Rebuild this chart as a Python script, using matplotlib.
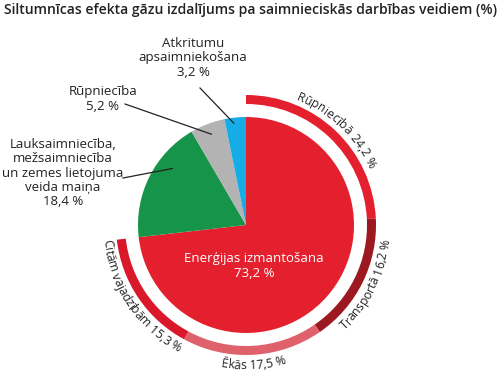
import numpy as np
import matplotlib.pyplot as plt
from matplotlib.font_manager import FontProperties, findfont, get_font

plt.rcParams['font.family'] = ['Open Sans', 'DejaVu Sans']

title = "Siltumnīcas efekta gāzu izdalījums pa saimnieciskās darbības veidiem (%)"

# pie: sectors clockwise from top
sectors = ["Enerģijas izmantošana", "Lauksaimniecība,\nmežsaimniecība\nun zemes lietojuma\nveida maiņa",
           "Rūpniecība", "Atkritumu\napsaimniekošana"]
shares = [73.2, 18.4, 5.2, 3.2]
share_lbl = ["73,2 %", "18,4 %", "5,2 %", "3,2 %"]
pie_cols = ["#e5202e", "#16954a", "#b3b3b3", "#16ade6"]

# energy use breakdown (outer ring)
uses = ["Rūpniecībā", "Transportā", "Ēkās", "Citām vajadzībām"]
use_vals = [24.2, 16.2, 17.5, 15.3]
use_lbl = ["24,2 %", "16,2 %", "17,5 %", "15,3 %"]
use_cols = ["#e5202e", "#9c1922", "#df616b", "#d9182b"]

W, H = 500, 375
fig = plt.figure(figsize=(5, 3.75), dpi=100)
ax = fig.add_axes([0, 0, 1, 1])

cx, cy = 246, H - 225
R = 108
ax.pie(shares, colors=pie_cols, startangle=90, counterclock=False,
       radius=R, center=(cx, cy), frame=True,
       wedgeprops=dict(linewidth=0))
ring_vals = use_vals + [100 - sum(use_vals)]
ring_cols = use_cols + ["none"]
ax.pie(ring_vals, colors=ring_cols, startangle=90, counterclock=False,
       radius=130, center=(cx, cy), frame=True,
       wedgeprops=dict(width=9, linewidth=0))
ax.set_xlim(0, W)
ax.set_ylim(0, H)
ax.set_aspect('equal')
ax.axis('off')

fig.text(0.5, 1 - 10 / H, title, ha='center', va='center', fontsize=10.1,
         fontweight='semibold', color='#222222')

# white label inside the big slice
ax.text(cx + 8, cy - 41, sectors[0] + "\n" + share_lbl[0], ha='center', va='center',
        color='white', fontsize=9.5, linespacing=1.15)


def clock_angle(frac):
    # fraction of the circle clockwise from top -> math angle (rad)
    return np.radians(90 - 360 * frac)


# outside labels with leader lines
cum = np.cumsum([0] + shares) / 100
mid = (cum[:-1] + cum[1:]) / 2
lab_pos = {1: (63, H - 173), 2: (103, H - 99), 3: (193, H - 58)}
line_from = {1: (123, H - 178), 2: (125, H - 104), 3: (200, H - 88)}
end_r = {1: 0.86, 2: 0.9, 3: 0.95}
end_shift = {1: 0.03, 2: 0.0, 3: -0.003}
for i in (1, 2, 3):
    ax.text(*lab_pos[i], sectors[i] + "\n" + share_lbl[i], ha='center', va='center',
            fontsize=9.5, color='#222222', linespacing=1.12)
    a = clock_angle(mid[i] + end_shift[i])
    ex, ey = cx + R * end_r[i] * np.cos(a), cy + R * end_r[i] * np.sin(a)
    ax.plot([line_from[i][0], ex], [line_from[i][1], ey], color='#222222', lw=0.9)

# curved labels along the ring
ring_size = 8.7
fp = FontProperties(family=['Open Sans', 'DejaVu Sans'], size=ring_size)
ft = get_font(findfont(fp))
ft.set_size(ring_size, 100)


def adv(ch):
    g = ft.load_char(ord(ch))
    return g.linearHoriAdvance / 65536


def curved(s, frac, r, outward):
    widths = [adv(c) for c in s]
    total = sum(widths)
    a0 = clock_angle(frac)
    x = 0.0
    for ch, w in zip(s, widths):
        pos = x + w / 2 - total / 2
        x += w
        if ch == ' ':
            continue
        da = pos / r
        if outward:
            a = a0 - da
            rot = np.degrees(a) - 90
        else:
            a = a0 + da
            rot = np.degrees(a) + 90
        ax.text(cx + r * np.cos(a), cy + r * np.sin(a), ch, fontproperties=fp,
                rotation=rot, rotation_mode='anchor', ha='center', va='baseline',
                color='#222222')


ucum = np.cumsum([0] + use_vals) / 100
umid = (ucum[:-1] + ucum[1:]) / 2
for i in range(4):
    s = uses[i] + " " + use_lbl[i]
    if i == 0:
        curved(s, umid[i], 135, True)
    else:
        curved(s, umid[i], 144, False)

fig.savefig("out.png", dpi=100)
